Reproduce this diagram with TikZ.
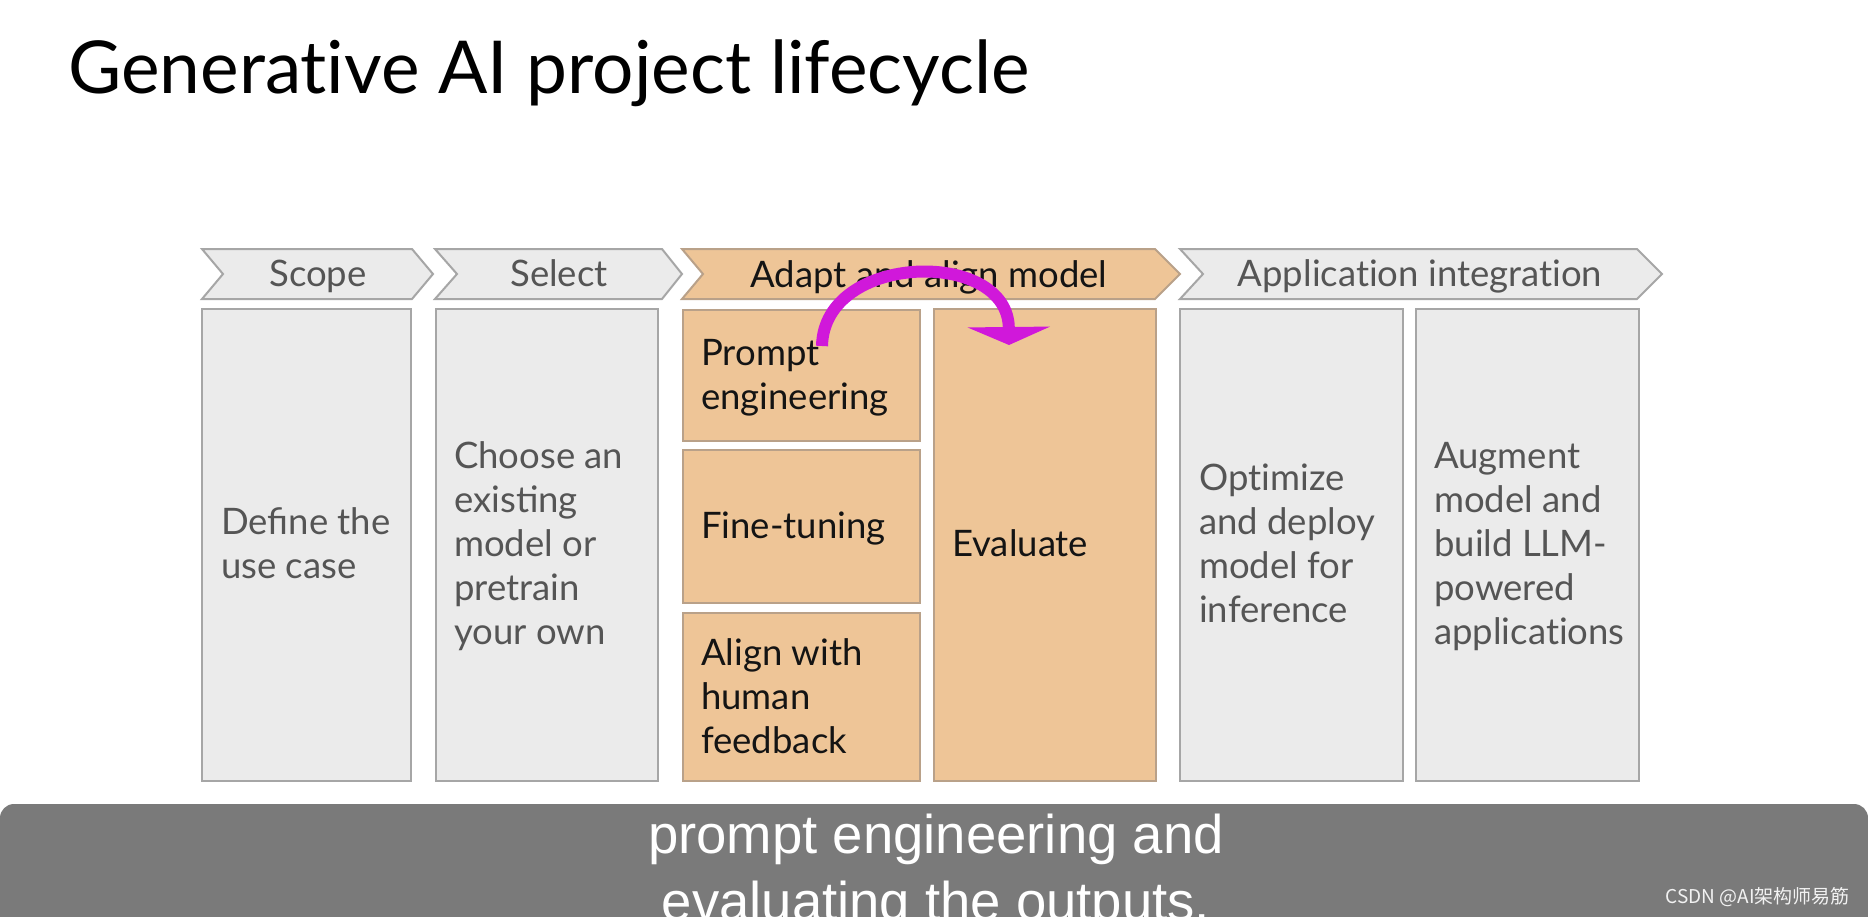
\documentclass[tikz,border=0pt]{standalone}
\usepackage{fontspec}
\setmainfont{Lato}
\newfontfamily\subfont{Liberation Sans}
\newfontfamily\cjkfont{Noto Sans CJK SC}
\usetikzlibrary{arrows.meta}
\definecolor{gfill}{HTML}{EBEBEB}
\definecolor{gline}{HTML}{A6A6A6}
\definecolor{ofill}{HTML}{EEC597}
\definecolor{oline}{HTML}{B9A189}
\definecolor{gtext}{HTML}{555555}
\definecolor{ktext}{HTML}{141414}
\definecolor{barcol}{HTML}{7A7A7A}
\definecolor{magarrow}{RGB}{208,24,218}
\tikzset{
  graybox/.style={draw=gline, fill=gfill, line width=2pt, inner sep=0pt, anchor=north west},
  orangebox/.style={draw=oline, fill=ofill, line width=2pt, inner sep=0pt, anchor=north west},
  graychev/.style={draw=gline, fill=gfill, line width=2pt, line join=miter},
  orangechev/.style={draw=oline, fill=ofill, line width=2pt, line join=miter},
  chevlabel/.style={anchor=base, inner sep=0pt, font=\fontsize{36.5}{40}\selectfont},
  boxtext/.style={anchor=base west, inner sep=0pt, align=left, font=\fontsize{36.5}{44}\selectfont},
}
\begin{document}
\begin{tikzpicture}[x=1pt, y=-1pt]
\useasboundingbox (0,0) rectangle (1868,916);
\clip (0,0) rectangle (1868,916);
\fill[white] (0,0) rectangle (1868,916);

% title
\node[anchor=base west, inner sep=0pt, font=\fontsize{73}{80}\selectfont, text=black] (title) at (68,93) {Generat\kern0pt ive AI project lifecycle};

% chevrons
\draw[graychev] (202,249) -- (412,249) -- (433,274) -- (412,299) -- (202,299) -- (223,274) -- cycle;
\draw[graychev] (435,249) -- (662,249) -- (682,274) -- (662,299) -- (435,299) -- (457,274) -- cycle;
\draw[orangechev] (682,249) -- (1155,249) -- (1180,274) -- (1155,299) -- (682,299) -- (703,274) -- cycle;
\draw[graychev] (1180,249) -- (1637,249) -- (1662,274) -- (1637,299) -- (1180,299) -- (1203,274) -- cycle;

\node[chevlabel, text=gtext] (lscope) at (318,286) {Scope};
\node[chevlabel, text=gtext] (lselect) at (559,286) {Select};
\node[chevlabel, text=ktext] (ladapt) at (929,287) {Adapt and align model};
\node[chevlabel, text=gtext] (lapp) at (1420,286) {Applicat\kern0pt ion integrat\kern0pt ion};

% boxes
\node[graybox, minimum width=209pt, minimum height=472pt] (bscope) at (201,308) {};
\node[graybox, minimum width=222pt, minimum height=472pt] (bselect) at (435,308) {};
\node[orangebox, minimum width=237pt, minimum height=131pt] (bprompt) at (682,309) {};
\node[orangebox, minimum width=237pt, minimum height=153pt] (bfine) at (682,449) {};
\node[orangebox, minimum width=237pt, minimum height=168pt] (balign) at (682,612) {};
\node[orangebox, minimum width=222pt, minimum height=472pt] (beval) at (933,308) {};
\node[graybox, minimum width=223pt, minimum height=472pt] (bopt) at (1179,308) {};
\node[graybox, minimum width=223pt, minimum height=472pt] (baug) at (1415,308) {};

% box texts (base anchor = baseline of last line)
\node[boxtext, text=gtext] (tscope) at (221,578) {Define the\\use case};
\node[boxtext, text=gtext] (tselect) at (454,644) {Choose an\\existing\\model or\\pretrain\\your own};
\node[boxtext, text=ktext] (tprompt) at (701,409) {Prompt\\engineering};
\node[boxtext, text=ktext] (tfine) at (701,538) {Fine-tuning};
\node[boxtext, text=ktext] (talign) at (701,753) {Align with\\human\\feedback};
\node[boxtext, text=ktext] (teval) at (952,556) {Evaluate};
\node[boxtext, text=gtext] (topt) at (1199,622) {Opt\kern0pt imize\\and deploy\\model for\\inference};
\node[boxtext, text=gtext] (taug) at (1434,644) {Augment\\model and\\build LLM-\\powered\\applicat\kern0pt ions};

% magenta arrow from prompt engineering to evaluate
\coordinate (arrstart) at (822,346);
\coordinate (arrend) at (1009,345);
\draw[magarrow, line width=12pt, -{Triangle[width=82pt, length=18pt]}]
  (arrstart) .. controls (824,252) and (1008,248) .. (arrend);

% subtitle bar
\fill[barcol, rounded corners=14pt] (0,804) rectangle (1868,960);
\node[anchor=base, inner sep=0pt, align=center, text=white, font=\subfont\fontsize{54.5}{67}\selectfont] (subtitle) at (936,920) {prompt engineering and\\evaluating the outputs,};
\node[anchor=base east, inner sep=0pt, text=white!90!gray, font=\cjkfont\fontsize{19}{22}\selectfont] (wmark) at (1850,903) {CSDN @AI架构师易筋};
\end{tikzpicture}
\end{document}
